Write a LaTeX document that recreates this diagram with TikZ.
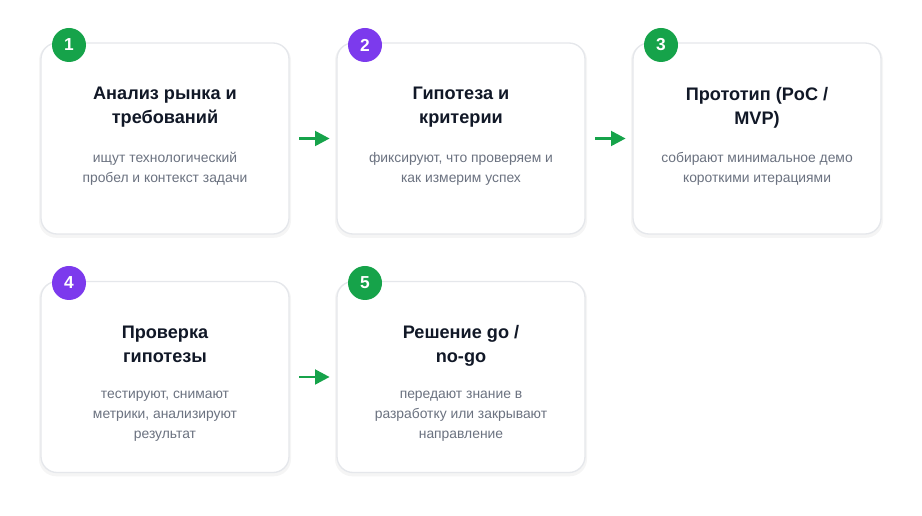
\documentclass[tikz,border=0pt]{standalone}
\usepackage{fontspec}
\setmainfont{Liberation Sans}
\usetikzlibrary{arrows.meta,positioning}
\definecolor{stepgreen}{HTML}{16A34A}
\definecolor{steppurple}{HTML}{7C3AED}
\definecolor{cardline}{HTML}{E5E7EB}
\definecolor{titletext}{HTML}{111827}
\definecolor{desctext}{HTML}{6B7280}
\tikzset{
  card/.style={draw=cardline, line width=1pt, fill=white, rounded corners=12pt,
    minimum width=186pt, minimum height=143.25pt},
  cardshadow/.style={fill=black!4, draw=none, rounded corners=13pt,
    minimum width=189pt, minimum height=146pt},
  badge/.style={circle, fill=#1, text=white, minimum size=25.5pt, inner sep=0pt,
    font=\fontsize{13pt}{14pt}\selectfont\bfseries},
  cardtitle/.style={align=center, text=titletext, inner sep=0pt,
    font=\fontsize{13.6pt}{18pt}\selectfont\bfseries},
  carddesc/.style={align=center, text=desctext, inner sep=0pt,
    font=\fontsize{10.4pt}{14.8pt}\selectfont},
  flow/.style={draw=stepgreen, line width=2.2pt,
    -{Triangle[length=11pt, width=11pt]}, shorten <=7pt, shorten >=5pt}
}
\begin{document}
\begin{tikzpicture}[x=0.75pt, y=-0.75pt]
  \useasboundingbox (0,0) rectangle (922,516);

  % shadows
  \node[cardshadow] at (165,140.5) {};
  \node[cardshadow] at (461,140.5) {};
  \node[cardshadow] at (757,140.5) {};
  \node[cardshadow] at (165,379) {};
  \node[cardshadow] at (461,379) {};

  % cards
  \node[card] (c1) at (165,138.5) {};
  \node[card] (c2) at (461,138.5) {};
  \node[card] (c3) at (757,138.5) {};
  \node[card] (c4) at (165,377) {};
  \node[card] (c5) at (461,377) {};

  % badges
  \node[badge=stepgreen] (b1) at (69,45) {1};
  \node[badge=steppurple] (b2) at (365,45) {2};
  \node[badge=stepgreen] (b3) at (661,45) {3};
  \node[badge=steppurple] (b4) at (69,283) {4};
  \node[badge=stepgreen] (b5) at (365,283) {5};

  % texts
  \node[cardtitle, anchor=north] (t1) at ([yshift=-33.5pt]c1.north) {Анализ рынка и\\требований};
  \node[carddesc, anchor=north] (d1) at ([yshift=-82.5pt]c1.north) {ищут технологический\\пробел и контекст задачи};

  \node[cardtitle, anchor=north] (t2) at ([yshift=-33.5pt]c2.north) {Гипотеза и\\критерии};
  \node[carddesc, anchor=north] (d2) at ([yshift=-82.5pt]c2.north) {фиксируют, что проверяем и\\как измерим успех};

  \node[cardtitle, anchor=north] (t3) at ([yshift=-33.5pt]c3.north) {Прототип (PoC /\\MVP)};
  \node[carddesc, anchor=north] (d3) at ([yshift=-82.5pt]c3.north) {собирают минимальное демо\\короткими итерациями};

  \node[cardtitle, anchor=north] (t4) at ([yshift=-33.5pt]c4.north) {Проверка\\гипотезы};
  \node[carddesc, anchor=north] (d4) at ([yshift=-82.5pt]c4.north) {тестируют, снимают\\метрики, анализируют\\результат};

  \node[cardtitle, anchor=north] (t5) at ([yshift=-33.5pt]c5.north) {Решение go /\\no-go};
  \node[carddesc, anchor=north] (d5) at ([yshift=-82.5pt]c5.north) {передают знание в\\разработку или закрывают\\направление};

  % arrows
  \draw[flow] (c1.east) -- (c2.west);
  \draw[flow] (c2.east) -- (c3.west);
  \draw[flow] (c4.east) -- (c5.west);
\end{tikzpicture}
\end{document}
